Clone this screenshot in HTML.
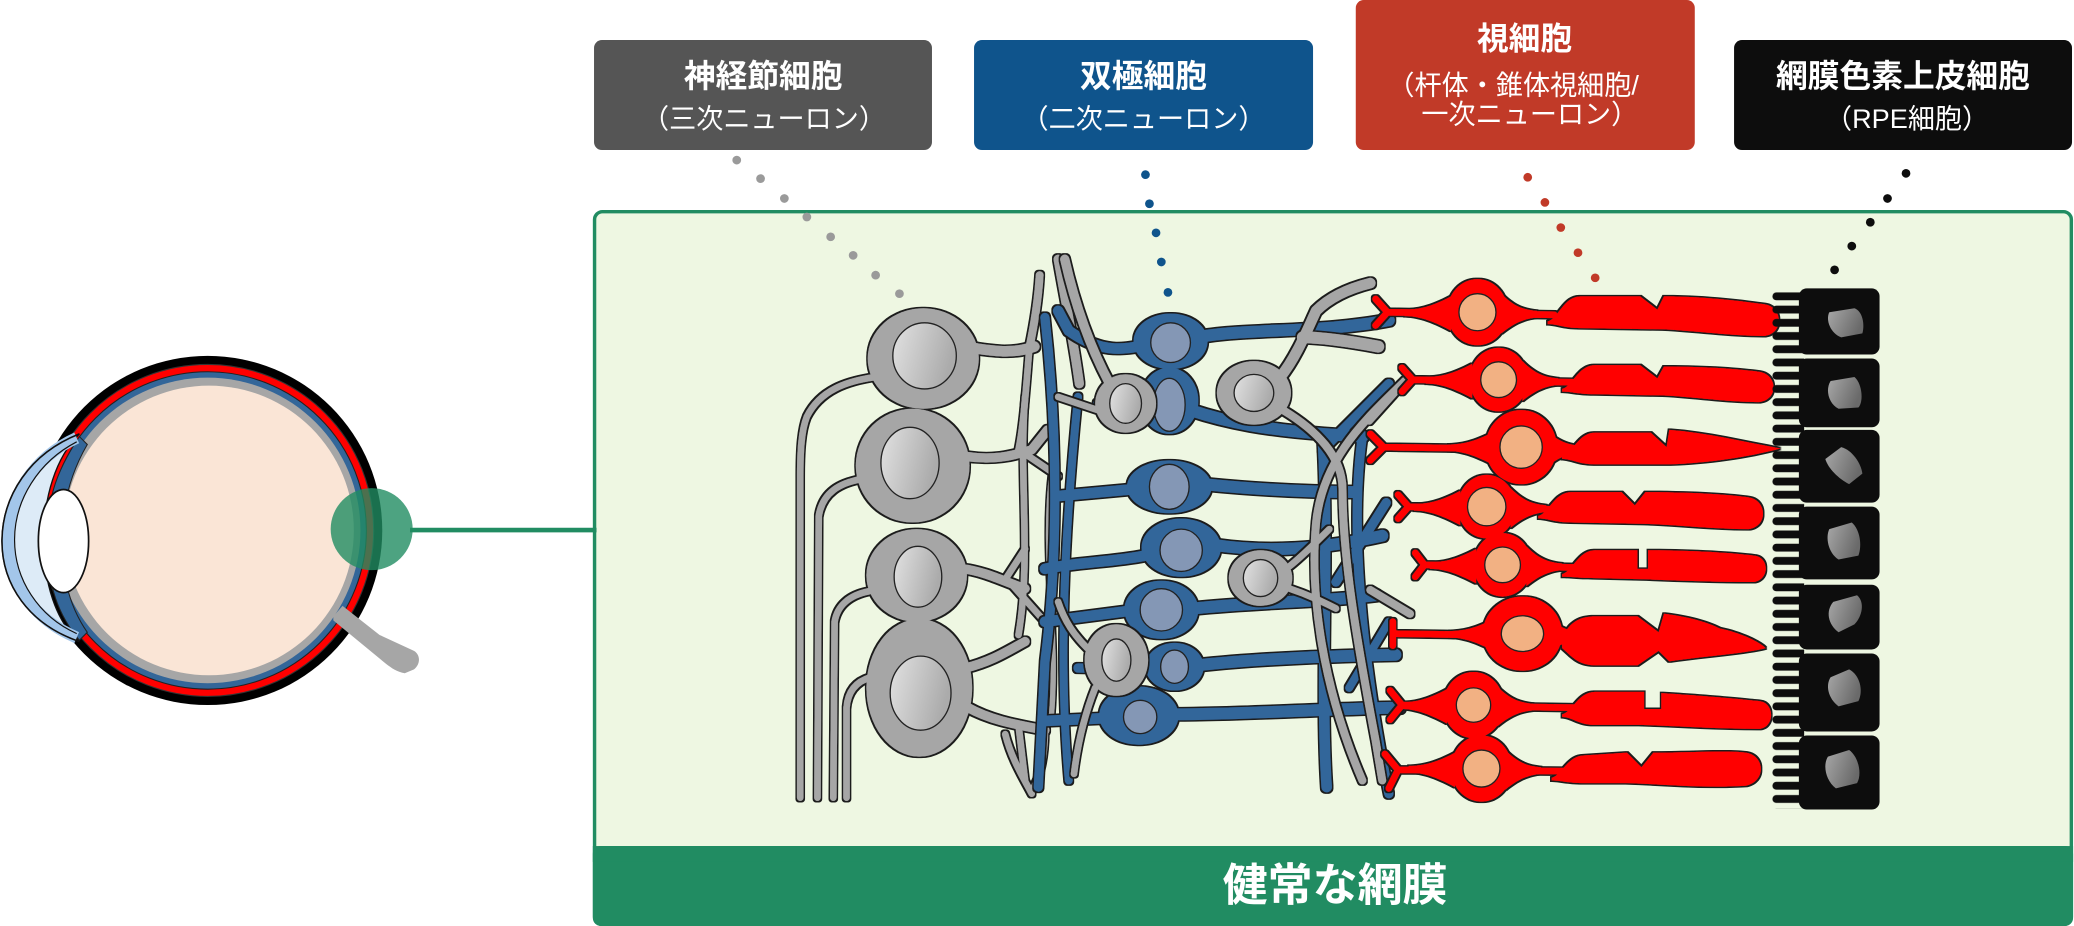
<!DOCTYPE html>
<html>
<head>
<meta charset="utf-8">
<style>
html,body{margin:0;padding:0;background:#fff;overflow:hidden;}
svg{display:block;}
text{font-family:"Liberation Sans","Noto Sans CJK JP",sans-serif;fill:#fff;}
</style>
</head>
<body>
<svg width="2074" height="926" viewBox="0 0 1568 700" xmlns="http://www.w3.org/2000/svg">
<defs>
  <filter id="ol" x="-10%" y="-10%" width="120%" height="120%">
    <feMorphology in="SourceAlpha" operator="dilate" radius="1" result="d"/>
    <feFlood flood-color="#1a1a1a"/>
    <feComposite in2="d" operator="in" result="o"/>
    <feMerge><feMergeNode in="o"/><feMergeNode in="SourceGraphic"/></feMerge>
  </filter>
  <linearGradient id="gn" x1="0" y1="0" x2="1" y2="0.3">
    <stop offset="0" stop-color="#e2e2e2"/><stop offset="1" stop-color="#ababab"/>
  </linearGradient>
  <linearGradient id="rn" x1="0" y1="0" x2="1" y2="0.4">
    <stop offset="0" stop-color="#a8a8a8"/><stop offset="1" stop-color="#6a6a6a"/>
  </linearGradient>
  <pattern id="fing" patternUnits="userSpaceOnUse" x="1340" y="219" width="40" height="10">
    <rect x="0" y="2" width="40" height="6" rx="3" fill="#0d0d0d"/>
  </pattern>
</defs>

<!-- ===== Label boxes ===== -->
<rect x="449.1" y="30.2" width="255.5" height="83.2" rx="6" fill="#555555"/>
<text x="577" y="65.9" font-size="24" font-weight="bold" text-anchor="middle">神経節細胞</text>
<text x="577.6" y="96.8" font-size="20.5" text-anchor="middle">（三次ニューロン）</text>

<rect x="736.4" y="30.2" width="256.3" height="83.2" rx="6" fill="#0f548c"/>
<text x="864.5" y="65.9" font-size="24" font-weight="bold" text-anchor="middle">双極細胞</text>
<text x="864.5" y="96.8" font-size="20.5" text-anchor="middle">（二次ニューロン）</text>

<rect x="1025" y="0" width="256.3" height="113.4" rx="6" fill="#c13a28"/>
<text x="1152.6" y="37.3" font-size="24" font-weight="bold" text-anchor="middle">視細胞</text>
<text x="1144" y="71.5" font-size="20.5" text-anchor="middle">（杆体・錐体視細胞/</text>
<text x="1156.6" y="93.4" font-size="20.5" text-anchor="middle">一次ニューロン）</text>

<rect x="1311" y="30.2" width="255.5" height="83.2" rx="6" fill="#0d0d0d"/>
<text x="1438.7" y="65.9" font-size="24" font-weight="bold" text-anchor="middle">網膜色素上皮細胞</text>
<text x="1441.8" y="96.8" font-size="20.5" text-anchor="middle">（RPE細胞）</text>

<!-- ===== Panel ===== -->
<rect x="449.5" y="160" width="1116.5" height="539" rx="6" fill="#eef7e2" stroke="#218c62" stroke-width="2.6"/>
<rect x="448.2" y="639.6" width="1119.1" height="60.4" rx="6" fill="#218c62"/>
<rect x="448.2" y="639.6" width="1119.1" height="12" fill="#218c62"/>
<text x="1009.4" y="680.9" font-size="34" font-weight="bold" text-anchor="middle">健常な網膜</text>

<!-- ===== Eye ===== -->
<ellipse cx="157" cy="401" rx="132" ry="132" fill="#000"/>
<ellipse cx="157" cy="401" rx="125.5" ry="125.5" fill="#ff0000" stroke="#333" stroke-width="0.8"/>
<ellipse cx="157" cy="401" rx="120" ry="120" fill="#336699" stroke="#222" stroke-width="0.8"/>
<ellipse cx="157" cy="401" rx="115.5" ry="115.5" fill="#a6a6a6"/>
<ellipse cx="158" cy="401" rx="109.5" ry="109.5" fill="#fae5d6"/>
<path d="M60 330 C40 360,36 380,36 408 C36 436,40 460,60 484 L66 478 C50 455,47 430,47 408 C47 385,52 360,66 336 Z" fill="#336699" stroke="#222" stroke-width="0.8"/>
<path d="M252 466 L259 458 L287 480 L313 492 C318 495,318 502,313 506 L306 509 C300 508,296 505,292 502 L252 469 Z" fill="#a6a6a6"/>
<path d="M60 328 C22 343,2 375,1.5 408 C1 442,22 472,60 485 C42 470,33 440,33 408 C33 376,42 346,60 328 Z" fill="#ddebf7" stroke="#111" stroke-width="1"/>
<path d="M58 331 C25 346,6 377,6 408 C6 440,25 468,58 482" fill="none" stroke="#a3c6ea" stroke-width="9"/>
<path d="M58 334 C29 349,11 378,11 408 C11 438,29 466,58 479" fill="none" stroke="#111" stroke-width="0.9"/>
<path d="M60 328 C22 343,2 375,1.5 408 C1 442,22 472,60 485" fill="none" stroke="#111" stroke-width="1.2"/>
<ellipse cx="48" cy="409" rx="19" ry="39" fill="#fff" stroke="#111" stroke-width="1.3"/>
<line x1="310" y1="400.7" x2="451" y2="400.7" stroke="#218c62" stroke-width="3.5"/>
<circle cx="281" cy="400" r="31" fill="#218c62" fill-opacity="0.8"/>

<!-- ===== Ganglion cells (gray) ===== -->
<g filter="url(#ol)" fill="#a6a6a6" stroke="#a6a6a6" stroke-linecap="round" stroke-linejoin="round">
  <g fill="none">
    <path d="M662 285 C640 288,620 295,610 315 C606 325,605 340,605 360 L605 603" stroke-width="5"/>
    <path d="M652 362 C635 365,622 372,619 390 L618 603" stroke-width="5"/>
    <path d="M657 447 C642 450,633 458,631 470 L630 603" stroke-width="5"/>
    <path d="M658 512 C648 515,641 522,640 535 L640 603" stroke-width="5"/>
    <path d="M735 263 C750 265,765 268,782 262" stroke-width="8"/>
    <path d="M778 264 C782 245,785 225,786 208" stroke-width="6"/>
    <path d="M778 266 C776 290,774 320,770 340" stroke-width="5"/>
    <path d="M730 345 C750 348,765 345,780 340 L792 325" stroke-width="7"/>
    <path d="M775 343 L800 360" stroke-width="5"/>
    <path d="M728 430 C745 432,760 440,775 445" stroke-width="7"/>
    <path d="M760 438 L775 415" stroke-width="5"/>
    <path d="M765 442 L790 470" stroke-width="5"/>
    <path d="M730 505 C750 500,762 492,775 485" stroke-width="7"/>
    <path d="M732 535 C750 545,770 548,790 552" stroke-width="7"/>
    <path d="M770 548 L775 590" stroke-width="5"/>
    <path d="M790 552 C790 575,785 590,780 598" stroke-width="5"/>
    <path d="M775 300 C770 360,780 420,770 480" stroke-width="5"/>
    <path d="M795 360 C788 420,800 480,795 540" stroke-width="4"/>
    <path d="M760 555 C765 575,775 590,780 600" stroke-width="5"/>
    <path d="M800 196 C806 230,812 260,816 290" stroke-width="7"/>
  </g>
  <ellipse cx="698" cy="271" rx="42" ry="38" stroke="none"/>
  <ellipse cx="690" cy="352" rx="43" ry="43" stroke="none"/>
  <ellipse cx="693" cy="435" rx="38" ry="35" stroke="none"/>
  <ellipse cx="695" cy="520" rx="40" ry="52" stroke="none"/>
</g>
<g fill="url(#gn)" stroke="#222" stroke-width="1">
  <ellipse cx="699" cy="269" rx="24" ry="25"/>
  <ellipse cx="688" cy="350" rx="22" ry="27"/>
  <ellipse cx="694" cy="436" rx="18" ry="23"/>
  <ellipse cx="696" cy="524" rx="23" ry="28"/>
</g>

<!-- ===== Bipolar cells (blue) ===== -->
<g filter="url(#ol)" fill="#33669a" stroke="#33669a" stroke-linecap="round" stroke-linejoin="round">
  <g fill="none">
    <path d="M790 240 C800 330,800 420,790 500 L785 595" stroke-width="7"/>
    <path d="M815 300 C805 400,800 500,808 590" stroke-width="6"/>
    <path d="M1000 330 C1005 420,998 520,1003 595" stroke-width="8"/>
    <path d="M1030 330 C1020 400,1030 500,1050 600" stroke-width="7"/>
    <path d="M1000 340 L1050 290" stroke-width="7"/>
    <path d="M1010 440 L1048 380" stroke-width="7"/>
    <path d="M1020 520 L1050 470" stroke-width="6"/>
    <path d="M860 262 C840 266,825 262,808 250 L800 235" stroke-width="8"/>
    <path d="M905 255 C940 248,1000 252,1050 242" stroke-width="9"/>
    <path d="M866 300 L830 305" stroke-width="7"/>
    <path d="M900 310 C930 320,960 325,1000 328 L1030 330" stroke-width="9"/>
    <path d="M855 370 L800 375" stroke-width="8"/>
    <path d="M910 366 C950 370,990 372,1025 372" stroke-width="9"/>
    <path d="M866 420 C840 425,815 425,790 430" stroke-width="8"/>
    <path d="M918 412 C960 418,1000 415,1045 405" stroke-width="9"/>
    <path d="M852 462 L790 470" stroke-width="8"/>
    <path d="M902 460 C950 455,1000 455,1040 450" stroke-width="9"/>
    <path d="M868 506 L815 505" stroke-width="7"/>
    <path d="M905 503 C950 498,1000 496,1055 495" stroke-width="9"/>
    <path d="M833 543 L790 545" stroke-width="8"/>
    <path d="M888 540 C940 540,1000 536,1058 535" stroke-width="9"/>
  </g>
  <ellipse cx="885" cy="258" rx="28" ry="21" stroke="none"/>
  <ellipse cx="884" cy="303" rx="22" ry="25" stroke="none"/>
  <ellipse cx="884" cy="368" rx="32" ry="20" stroke="none"/>
  <ellipse cx="893" cy="414" rx="30" ry="22" stroke="none"/>
  <ellipse cx="878" cy="461" rx="28" ry="22" stroke="none"/>
  <ellipse cx="888" cy="504" rx="22" ry="18" stroke="none"/>
  <ellipse cx="861" cy="541" rx="30" ry="22" stroke="none"/>
</g>
<g fill="#8497b5" stroke="#222" stroke-width="1">
  <ellipse cx="885" cy="259" rx="15" ry="15"/>
  <ellipse cx="884" cy="306" rx="12" ry="20"/>
  <ellipse cx="884" cy="368" rx="15" ry="17"/>
  <ellipse cx="893" cy="416" rx="16" ry="16"/>
  <ellipse cx="878" cy="461" rx="16" ry="16"/>
  <ellipse cx="888" cy="504" rx="10.5" ry="12.6"/>
  <ellipse cx="862" cy="542" rx="12.6" ry="12.6"/>
</g>

<!-- ===== Amacrine / horizontal cells (gray) ===== -->
<g filter="url(#ol)" fill="#a6a6a6" stroke="#a6a6a6" stroke-linecap="round" stroke-linejoin="round">
  <g fill="none">
    <path d="M840 292 C828 270,815 240,805 196" stroke-width="7"/>
    <path d="M830 310 L800 300" stroke-width="5"/>
    <path d="M968 285 C980 270,988 250,995 235 C1005 225,1020 218,1036 214" stroke-width="8"/>
    <path d="M985 255 C1000 255,1020 258,1042 262" stroke-width="9"/>
    <path d="M970 310 C995 325,1015 345,1015 370 C1015 420,1025 480,1040 560 L1045 590" stroke-width="6"/>
    <path d="M975 428 C985 420,995 410,1005 400" stroke-width="5"/>
    <path d="M975 445 C990 450,1000 455,1010 460" stroke-width="5"/>
    <path d="M822 490 C812 480,805 470,800 455" stroke-width="5"/>
    <path d="M828 520 C820 540,815 560,812 585" stroke-width="5"/>
    <path d="M1060 290 C1035 315,1000 345,995 395 C990 450,1000 520,1030 590" stroke-width="6"/>
    <path d="M1035 318 L1062 288" stroke-width="6"/>
    <path d="M1036 446 L1066 464" stroke-width="6"/>
  </g>
  <ellipse cx="851" cy="305" rx="23" ry="22" stroke="none"/>
  <ellipse cx="948" cy="297" rx="28" ry="24" stroke="none"/>
  <ellipse cx="953" cy="437" rx="24" ry="21" stroke="none"/>
  <ellipse cx="844" cy="499" rx="24" ry="27" stroke="none"/>
</g>
<g fill="url(#gn)" stroke="#222" stroke-width="1">
  <ellipse cx="851" cy="305" rx="12" ry="15"/>
  <ellipse cx="948" cy="297" rx="15" ry="14"/>
  <ellipse cx="953" cy="437" rx="13" ry="14"/>
  <ellipse cx="844" cy="499" rx="11" ry="16"/>
</g>

<!-- ===== Photoreceptors (red) ===== -->
<g filter="url(#ol)" fill="#ff0000" stroke="#ff0000" stroke-linecap="round" stroke-linejoin="round">
  <!-- row 1 -->
  <path d="M1040 226 L1049 236 L1040 246 M1049 236 L1175 238" fill="none" stroke-width="5"/>
  <ellipse cx="1117" cy="236" rx="23" ry="25" stroke="none"/>
  <path d="M1097 224 C1082 232,1072 234,1062 234 L1062 239 C1072 239,1082 242,1097 250 Z M1135 222 C1145 232,1152 234,1162 235 L1162 240 C1152 241,1145 244,1135 252 Z" stroke="none"/>
  <path d="M1170 243 C1178 241,1182 224,1195 224 L1240 224 L1253 234 L1258 224 C1290 224,1320 228,1334 230 C1348 232,1349 252,1334 254 C1310 254,1280 250,1258 249 L1195 248 C1182 248,1178 245,1170 245 Z" stroke="none"/>
  <!-- row 2 -->
  <path d="M1060 278 L1068 287 L1060 296 M1068 287 L1190 289" fill="none" stroke-width="5"/>
  <ellipse cx="1133" cy="287" rx="22" ry="24" stroke="none"/>
  <path d="M1113 275 C1098 283,1088 285,1078 285 L1078 290 C1088 290,1098 293,1113 301 Z M1151 273 C1161 283,1168 285,1178 286 L1178 291 C1168 292,1161 295,1151 303 Z" stroke="none"/>
  <path d="M1181 294 C1189 292,1193 276,1206 276 L1240 276 L1253 286 L1258 277 C1290 277,1316 279,1330 281 C1344 283,1345 302,1330 304 C1306 304,1280 300,1258 299 L1206 298 C1193 298,1189 296,1181 296 Z" stroke="none"/>
  <!-- row 3 -->
  <path d="M1036 328 L1046 338 L1036 348 M1046 338 L1190 340" fill="none" stroke-width="5"/>
  <ellipse cx="1150" cy="338" rx="27" ry="28" stroke="none"/>
  <path d="M1130 326 C1115 334,1105 336,1095 336 L1095 341 C1105 341,1115 344,1130 352 Z M1168 324 C1178 334,1185 336,1195 337 L1195 342 C1185 343,1178 346,1168 354 Z" stroke="none"/>
  <path d="M1181 345 C1189 343,1193 327,1206 327 L1248 327 L1260 338 L1262 325 C1290 327,1318 334,1346 339 C1320 346,1290 350,1262 351 L1206 351 C1193 351,1189 347,1181 347 Z" stroke="none"/>
  <!-- row 4 -->
  <path d="M1057 374 L1065 383 L1057 392 M1065 383 L1172 385" fill="none" stroke-width="5"/>
  <ellipse cx="1124" cy="383" rx="22" ry="24" stroke="none"/>
  <path d="M1104 371 C1089 379,1079 381,1069 381 L1069 386 C1079 386,1089 389,1104 397 Z M1142 369 C1152 379,1159 381,1169 382 L1169 387 C1159 388,1152 391,1142 399 Z" stroke="none"/>
  <path d="M1163 390 C1171 388,1175 372,1188 372 L1226 372 L1236 382 L1244 372 C1280 372,1310 374,1322 376 C1336 378,1337 398,1322 400 C1296 400,1270 397,1244 396 L1188 395 C1175 395,1171 392,1163 392 Z" stroke="none"/>
  <!-- row 5 -->
  <path d="M1070 418 L1077 427 L1070 436 M1077 427 L1190 429" fill="none" stroke-width="5"/>
  <ellipse cx="1136" cy="427" rx="22" ry="24" stroke="none"/>
  <path d="M1116 415 C1101 423,1091 425,1081 425 L1081 430 C1091 430,1101 433,1116 441 Z M1154 413 C1164 423,1171 425,1181 426 L1181 431 C1171 432,1164 435,1154 443 Z" stroke="none"/>
  <path d="M1181 434 C1189 432,1193 416,1206 416 L1238 416 L1238 430 L1246 430 L1246 416 C1280 416,1310 418,1326 420 C1338 421,1338 438,1326 440 C1300 440,1272 439,1246 438 L1206 437 C1193 437,1189 436,1181 436 Z" stroke="none"/>
  <!-- row 6 -->
  <path d="M1053 470 L1053 488 M1053 479 L1190 481" fill="none" stroke-width="5"/>
  <ellipse cx="1151" cy="479" rx="30" ry="28" stroke="none"/>
  <path d="M1131 467 C1116 475,1106 477,1096 477 L1096 482 C1106 482,1116 485,1131 493 Z M1169 465 C1179 475,1186 477,1196 478 L1196 483 C1186 484,1179 487,1169 495 Z" stroke="none"/>
  <path d="M1181 483 C1186 470,1195 466,1206 466 L1238 466 L1254 478 L1258 464 C1275 466,1290 470,1300 475 C1315 478,1330 485,1335 490 C1320 494,1290 496,1262 500 L1254 492 L1238 503 L1206 503 C1193 503,1188 496,1181 490 Z" stroke="none"/>
  <!-- row 7 -->
  <path d="M1051 522 L1060 533 L1051 544 M1060 533 L1190 535" fill="none" stroke-width="5"/>
  <ellipse cx="1114" cy="533" rx="23" ry="25" stroke="none"/>
  <path d="M1094 521 C1079 529,1069 531,1059 531 L1059 536 C1069 536,1079 539,1094 547 Z M1132 519 C1142 529,1149 531,1159 532 L1159 537 C1149 538,1142 541,1132 549 Z" stroke="none"/>
  <path d="M1181 540 C1189 538,1193 523,1206 523 L1243 523 L1243 536 L1256 536 L1256 524 C1290 526,1320 529,1330 530 C1342 531,1342 550,1330 551 C1300 551,1270 549,1240 548 L1206 548 C1193 548,1189 542,1181 542 Z" stroke="none"/>
  <!-- row 8 -->
  <path d="M1047 570 L1057 582 L1050 596 M1057 582 L1182 583" fill="none" stroke-width="5"/>
  <ellipse cx="1120" cy="581" rx="23" ry="25" stroke="none"/>
  <path d="M1100 569 C1085 577,1075 579,1065 579 L1065 584 C1075 584,1085 587,1100 595 Z M1138 567 C1148 577,1155 579,1165 580 L1165 585 C1155 586,1148 589,1138 597 Z" stroke="none"/>
  <path d="M1173 588 C1181 586,1185 571,1198 571 L1230 569 L1241 580 L1250 569 C1280 569,1305 567,1320 569 C1334 571,1336 590,1320 594 C1290 596,1260 593,1230 592 L1198 592 C1185 592,1181 590,1173 590 Z" stroke="none"/>
</g>
<g fill="#f2b183" stroke="#222" stroke-width="1">
  <circle cx="1117" cy="236" r="14"/>
  <circle cx="1133" cy="287" r="13.5"/>
  <circle cx="1150" cy="338" r="16"/>
  <circle cx="1124" cy="383" r="14.5"/>
  <circle cx="1136" cy="427" r="13.5"/>
  <ellipse cx="1151" cy="479" rx="16" ry="13.5"/>
  <circle cx="1114" cy="533" r="13"/>
  <circle cx="1120" cy="581" r="14"/>
</g>

<!-- ===== RPE cells (black) ===== -->
<rect x="1340" y="219" width="24" height="392" fill="url(#fing)"/>
<g fill="#0d0d0d">
  <rect x="1360" y="218" width="61" height="50" rx="6"/>
  <rect x="1360" y="271" width="61" height="52" rx="6"/>
  <rect x="1360" y="325" width="61" height="55" rx="6"/>
  <rect x="1360" y="383" width="61" height="55" rx="6"/>
  <rect x="1360" y="442" width="61" height="49" rx="6"/>
  <rect x="1360" y="494" width="61" height="59" rx="6"/>
  <rect x="1360" y="556" width="61" height="56" rx="6"/>
</g>
<g fill="url(#rn)">
  <path d="M1383 236 L1402 233 C1408 235,1410 245,1408 252 L1392 255 C1384 252,1380 242,1383 236 Z"/>
  <path d="M1384 288 L1402 285 C1408 290,1409 304,1405 308 L1390 309 C1382 305,1380 294,1384 288 Z"/>
  <path d="M1380 347 L1392 338 C1400 340,1407 350,1408 358 L1398 366 C1390 362,1382 354,1380 347 Z"/>
  <path d="M1383 400 L1400 395 C1406 400,1408 412,1405 420 L1390 423 C1382 418,1380 406,1383 400 Z"/>
  <path d="M1386 455 L1404 450 C1410 455,1408 466,1402 472 L1390 478 C1382 472,1380 462,1386 455 Z"/>
  <path d="M1384 512 L1398 506 C1406 510,1409 522,1405 530 L1390 534 C1382 528,1380 518,1384 512 Z"/>
  <path d="M1382 572 L1398 567 C1405 572,1408 585,1404 592 L1388 596 C1380 590,1378 578,1382 572 Z"/>
</g>

<!-- ===== Dotted leaders ===== -->
<g fill="#9a9a9a">
  <circle cx="557" cy="121" r="3.3"/><circle cx="575" cy="135" r="3.3"/><circle cx="593" cy="150" r="3.3"/><circle cx="610" cy="164" r="3.3"/>
  <circle cx="628" cy="179" r="3.3"/><circle cx="645" cy="193" r="3.3"/><circle cx="662" cy="208" r="3.3"/><circle cx="680" cy="222" r="3.3"/>
</g>
<g fill="#0f548c">
  <circle cx="866" cy="132" r="3.3"/><circle cx="869" cy="154" r="3.3"/><circle cx="874" cy="176" r="3.3"/><circle cx="878" cy="198" r="3.3"/><circle cx="883" cy="221" r="3.3"/>
</g>
<g fill="#c13a28">
  <circle cx="1155" cy="134" r="3.3"/><circle cx="1168" cy="153" r="3.3"/><circle cx="1180" cy="172" r="3.3"/><circle cx="1193" cy="191" r="3.3"/><circle cx="1206" cy="210" r="3.3"/>
</g>
<g fill="#0d0d0d">
  <circle cx="1441" cy="131" r="3.3"/><circle cx="1427" cy="150" r="3.3"/><circle cx="1414" cy="168" r="3.3"/><circle cx="1400" cy="186" r="3.3"/><circle cx="1387" cy="204" r="3.3"/>
</g>
</svg>
</body>
</html>
